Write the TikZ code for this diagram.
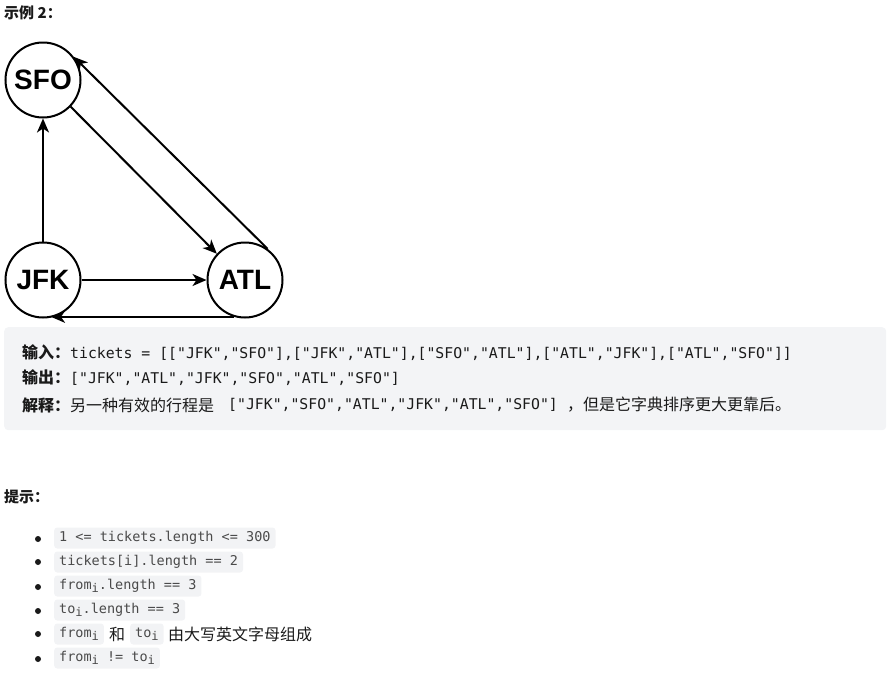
\documentclass[tikz,border=0pt]{standalone}
\usepackage{fontspec}
\setmainfont{Liberation Sans}
\setmonofont{DejaVu Sans Mono}
\newfontfamily\cjk{Noto Sans CJK SC}
\usetikzlibrary{arrows.meta}
\definecolor{boxgray}{HTML}{F3F4F6}
\definecolor{chipgray}{HTML}{F2F3F5}
\definecolor{codegray}{HTML}{4A4A4A}
\definecolor{txt}{HTML}{1A1A1A}
\newcommand{\subi}{\raisebox{-2.5pt}{\fontsize{12}{12}\selectfont i}}
\tikzset{
  city/.style={circle, draw=black, line width=2pt, minimum size=75pt, inner sep=0pt,
    font=\fontsize{28}{28}\selectfont\bfseries},
  arr/.style={line width=2pt, -{Stealth[length=14pt,width=12pt,inset=4pt]}},
  plain/.style={inner sep=0pt, anchor=west, text=txt},
  chip/.style={fill=chipgray, rounded corners=3pt, inner xsep=5pt, inner ysep=0pt,
    minimum height=21pt, text height=9.5pt, text depth=2.5pt, anchor=west,
    text=codegray, font=\ttfamily\fontsize{13.5}{13.5}\selectfont},
  bul/.style={circle, fill=txt, inner sep=0pt, minimum size=6pt}
}
\begin{document}
\begin{tikzpicture}[x=1pt,y=-1pt]
\useasboundingbox (0,0) rectangle (896,678);
% heading
\node[plain, font=\cjk\bfseries\fontsize{15}{15}\selectfont] (head) at (4,13) {示例 2：};
% graph
\node[city] (sfo) at (43,80) {SFO};
\node[city] (jfk) at (43,280) {JFK};
\node[city] (atl) at (245,280) {ATL};
\draw[arr] (jfk) -- (sfo);
\draw[arr] (jfk) -- (atl);
\draw[arr] (sfo.-44) -- (atl.137);
\draw[arr] (atl.54) -- (sfo.37);
\draw[arr] (atl.-107) -- (jfk.-78 |- atl.-107);
% example box
\node[fill=boxgray, rounded corners=4pt, inner sep=0pt, minimum width=882pt, minimum height=103pt, anchor=north west] (box) at (4,327) {};
\node[plain, font=\fontsize{16}{16}\selectfont] (l1) at (22,353)
  {{\cjk\bfseries 输入：}{\ttfamily\fontsize{14.8}{14.8}\selectfont tickets = [["JFK","SFO"],["JFK","ATL"],["SFO","ATL"],["ATL","JFK"],["ATL","SFO"]]}};
\node[plain, font=\fontsize{16}{16}\selectfont] (l2) at (22,378)
  {{\cjk\bfseries 输出：}{\ttfamily\fontsize{14.8}{14.8}\selectfont ["JFK","ATL","JFK","SFO","ATL","SFO"]}};
\node[plain, font=\cjk\fontsize{16}{16}\selectfont] (l3a) at (22,405)
  {{\bfseries 解释：}另一种有效的行程是};
\node[plain, font=\ttfamily\fontsize{14.8}{14.8}\selectfont] (l3b) at (228,405)
  {["JFK","SFO","ATL","JFK","ATL","SFO"]};
\node[plain, font=\cjk\fontsize{16}{16}\selectfont] (l3c) at (567,405)
  {，但是它字典排序更大更靠后。};
% hints
\node[plain, font=\cjk\bfseries\fontsize{15}{15}\selectfont] (hint) at (4,497) {提示：};
\foreach \yy [count=\k] in {539,562,587,611,634,659}
  \node[bul] (b\k) at (38,\yy) {};
\node[chip] (c1) at (54,538) {1 <= tickets.length <= 300};
\node[chip] (c2) at (54,562) {tickets[i].length == 2};
\node[chip] (c3) at (54,586) {from\subi.length == 3};
\node[chip] (c4) at (54,610) {to\subi.length == 3};
\node[chip] (c5a) at (54,634) {from\subi};
\node[plain, font=\cjk\fontsize{16}{16}\selectfont] (c5b) at (109,634) {和};
\node[chip] (c5c) at (130,634) {to\subi};
\node[plain, font=\cjk\fontsize{16}{16}\selectfont] (c5d) at (168,634) {由大写英文字母组成};
\node[chip] (c6) at (54,658) {from\subi{} != to\subi};
\end{tikzpicture}
\end{document}
